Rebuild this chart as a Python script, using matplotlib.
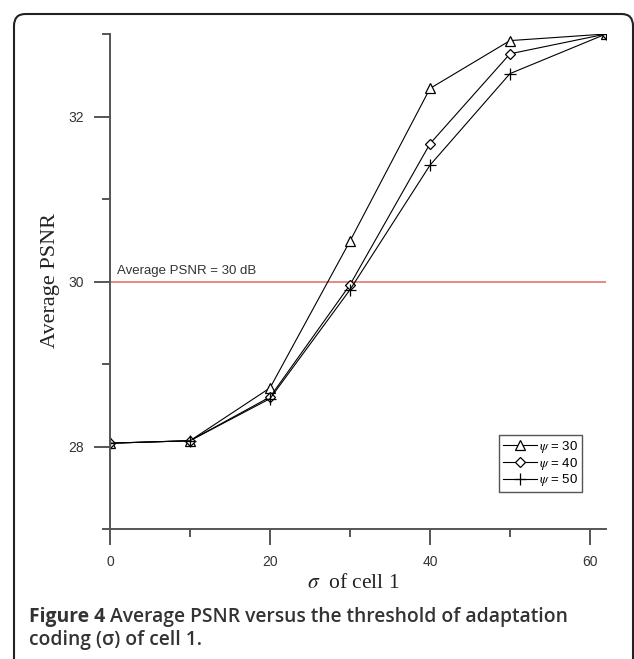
import matplotlib
matplotlib.use("Agg")
import matplotlib.pyplot as plt
from matplotlib.patches import FancyBboxPatch
from matplotlib.ticker import MultipleLocator

# ---- data ----
sigma = [0, 10, 20, 30, 40, 50, 62]
psnr_psi30 = [28.04, 28.07, 28.71, 30.49, 32.34, 32.92, 33.0]
psnr_psi40 = [28.04, 28.07, 28.60, 29.96, 31.67, 32.76, 33.0]
psnr_psi50 = [28.04, 28.07, 28.58, 29.90, 31.41, 32.52, 33.0]
labels = [r"$\psi$ = 30", r"$\psi$ = 40", r"$\psi$ = 50"]
threshold = 30
threshold_label = "Average PSNR = 30 dB"
xlabel = r"$\sigma$  of cell 1"
ylabel = "Average PSNR"
caption_bold = "Figure 4"
caption_rest1 = " Average PSNR versus the threshold of adaptation"
caption_rest2 = "coding (σ) of cell 1."

plt.rcParams["mathtext.fontset"] = "stix"

W, H = 634, 659
fig = plt.figure(figsize=(W / 100, H / 100), dpi=100)

# rounded frame (bottom runs off the image)
frame = FancyBboxPatch((14 / W, -30 / H), (633 - 14) / W, (H - 14 + 30) / H,
                       boxstyle="round,pad=0,rounding_size=0.018",
                       transform=fig.transFigure, fill=False,
                       edgecolor="#222222", linewidth=1.5, clip_on=False)
fig.patches.append(frame)

ax_l, ax_r, ax_t, ax_b = 110, 606, 34, 529
ax = fig.add_axes([ax_l / W, 1 - ax_b / H, (ax_r - ax_l) / W, (ax_b - ax_t) / H])
ax.set_xlim(0, 62)
ax.set_ylim(27, 33)
for s in ["top", "right"]:
    ax.spines[s].set_visible(False)
for s in ["left", "bottom"]:
    ax.spines[s].set_color("#555555")
    ax.spines[s].set_linewidth(1.4)

ax.xaxis.set_major_locator(MultipleLocator(20))
ax.xaxis.set_minor_locator(MultipleLocator(10))
ax.yaxis.set_major_locator(MultipleLocator(2))
ax.yaxis.set_minor_locator(MultipleLocator(1))
ax.tick_params(which="major", direction="out", length=11.5, width=1.4,
               color="#555555", labelsize=10, labelcolor="#333333", pad=7)
ax.tick_params(which="minor", direction="out", length=5.8, width=1.4,
               color="#555555")
for lab in ax.get_xticklabels() + ax.get_yticklabels():
    lab.set_fontfamily("Liberation Sans")

# threshold line
ax.axhline(threshold, color="#e06a5a", lw=1.1, zorder=1)
ax.text(0.9, threshold + 0.05, threshold_label, fontsize=9.5,
        family="Liberation Sans", color="#333333", va="bottom", ha="left")

kw = dict(color="black", lw=0.8, mfc="white", mec="black", mew=0.9)
ax.plot(sigma, psnr_psi30, marker="^", ms=7, label=labels[0], **kw)
ax.plot(sigma, psnr_psi40, marker="D", ms=5, label=labels[1], **kw)
ax.plot(sigma, psnr_psi50, marker="+", ms=9, label=labels[2], **kw)

leg = ax.legend(loc="upper left", bbox_to_anchor=((499 - ax_l) / (ax_r - ax_l), (ax_b - 435) / (ax_b - ax_t)),
                borderaxespad=0, fancybox=False, framealpha=1, edgecolor="#555555",
                prop={"family": "Liberation Sans", "size": 9.5},
                handlelength=2.6, handletextpad=0.1, labelspacing=0.05,
                borderpad=0.3)
leg.get_frame().set_linewidth(1.0)

fig.text(51 / W, 1 - 280 / H, ylabel, rotation=90, ha="center", va="center",
         family="Liberation Serif", fontsize=16, color="#222222")
fig.text(353 / W, 1 - 583 / H, xlabel, ha="center", va="center",
         family="Liberation Serif", fontsize=15.5, color="#222222")

capcolor = "#333333"
fs = 13.9
t1 = fig.text(29 / W, 1 - 622 / H, caption_bold, ha="left", va="baseline",
              family="Open Sans", weight="bold", fontsize=fs, color=capcolor)
fig.canvas.draw()
ax.annotate(caption_rest1, xy=(1, 0), xycoords=t1, va="bottom", ha="left",
            family="Open Sans", weight="semibold", fontsize=fs, color=capcolor,
            annotation_clip=False)
fig.text(29 / W, 1 - 645 / H, caption_rest2, ha="left", va="baseline",
         family="Open Sans", weight="semibold", fontsize=fs, color=capcolor)

fig.savefig("out.png", dpi=100)
